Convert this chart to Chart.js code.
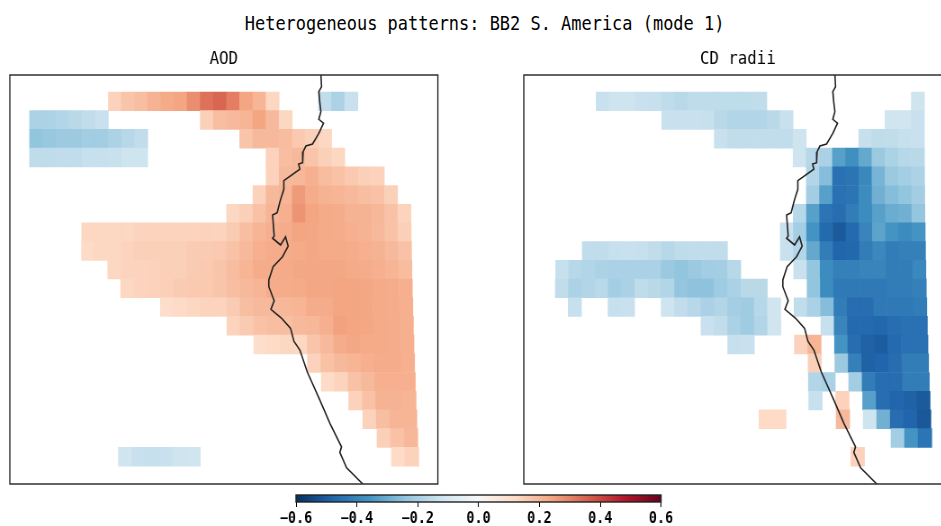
<!DOCTYPE html>
<html>
<head>
<meta charset="utf-8">
<title>Heterogeneous patterns</title>
<script src="https://cdn.jsdelivr.net/npm/chart.js@4"></script>
<style>
  html, body { margin: 0; background: #fff; overflow: hidden; width: 941px; height: 526px; }
  /* the reference is squeezed sideways, so text and canvases get the same scaleX */
  canvas, #title { position: absolute; transform-origin: 0 0; transform: scaleX(0.9); }
  #title {
    left: 13.5px; top: 11px; width: 1088px; text-align: center; color: #000; transform: scaleX(0.865);
    font: 19.6px/26px "DejaVu Sans Mono", monospace; white-space: pre;
  }
</style>
</head>
<body>
<div id="title">Heterogeneous patterns: BB2 S. America (mode 1)</div>
<canvas id="aodChart" width="480" height="440" style="left:8.2px;top:46px"></canvas>
<canvas id="cdChart" width="480" height="440" style="left:522.2px;top:46px"></canvas>
<canvas id="cbChart" width="466" height="37" style="left:269px;top:492px"></canvas>
<script>
// === Data ===
// each segment is [row, first column, values left to right]
const aodSegments = [
  [0, 6, [.14,.17,.185,.21,.23,.24,.28,.33,.35,.31,.24,.205,.13]],
  [0, 22, [-.15,-.19,-.135]],
  [1, 0, [-.19,-.19,-.18,-.165,-.15,-.135]],
  [1, 13, [.145,.185,.195,.205,.24,.195,.13]],
  [2, 0, [-.24,-.23,-.22,-.22,-.21,-.21,-.19,-.17,-.15]],
  [2, 16, [.17,.195,.195,.19,.16,.145,.13]],
  [3, 0, [-.155,-.155,-.15,-.15,-.14,-.14,-.135,-.125,-.125]],
  [3, 18, [.14,.185,.195,.17,.145,.13]],
  [4, 18, [.14,.195,.2,.215,.19,.175,.16,.145,.14]],
  [5, 17, [.14,.195,.205,.26,.225,.21,.205,.195,.185,.175,.145]],
  [6, 15, [.13,.145,.175,.205,.215,.27,.24,.23,.225,.21,.21,.2,.175,.135]],
  [7, 4, [.13,.13,.13,.13,.135,.135,.135,.135,.135,.14,.135,.155,.185,.205,.215,.225,.24,.235,.23,.225,.215,.21,.195,.175,.145]],
  [8, 4, [.12,.13,.13,.135,.145,.145,.145,.145,.155,.155,.16,.175,.195,.215,.225,.225,.23,.235,.23,.23,.225,.215,.21,.195,.175]],
  [9, 6, [.13,.135,.135,.14,.145,.145,.155,.16,.17,.19,.205,.225,.225,.23,.235,.235,.235,.235,.23,.225,.215,.205,.19]],
  [10, 7, [.13,.135,.14,.145,.155,.16,.16,.17,.185,.195,.205,.225,.225,.23,.235,.235,.24,.24,.235,.23,.225,.215]],
  [11, 10, [.11,.12,.13,.135,.135,.155,.185,.195,.195,.2,.205,.225,.225,.24,.24,.235,.23,.225,.215]],
  [12, 15, [.135,.155,.175,.185,.185,.195,.2,.215,.245,.24,.235,.23,.225,.215]],
  [13, 17, [.11,.12,.13,.13,.17,.195,.225,.235,.23,.23,.225,.215]],
  [14, 21, [.14,.175,.195,.205,.215,.225,.225,.215]],
  [15, 22, [.12,.135,.175,.195,.215,.215,.215]],
  [16, 24, [.14,.175,.21,.21,.205]],
  [17, 25, [.14,.185,.205,.205]],
  [18, 26, [.145,.175,.2]],
  [19, 27, [.12,.14]],
  [19, 7, [-.12,-.135,-.14,-.135,-.125,-.12]]
];

const cdSegments = [
  [0, 4, [-.135,-.125,-.125,-.135,-.14,-.155,-.165,-.155,-.155,-.155,-.155,-.155,-.15]],
  [0, 28, [-.125]],
  [1, 9, [-.135,-.135,-.135,-.14,-.165,-.18,-.18,-.18,-.165,-.135]],
  [1, 26, [-.12,-.12,-.135]],
  [2, 13, [-.135,-.15,-.15,-.15,-.15,-.15,-.125]],
  [2, 24, [-.14,-.155,-.15,-.14,-.135]],
  [3, 19, [-.125,-.17,-.195,-.33,-.37,-.31,-.225,-.19,-.17,-.165]],
  [4, 20, [-.18,-.26,-.45,-.44,-.39,-.28,-.225,-.205,-.19]],
  [5, 20, [-.21,-.33,-.45,-.44,-.38,-.29,-.26,-.24,-.21]],
  [6, 19, [-.17,-.33,-.44,-.46,-.42,-.38,-.33,-.30,-.29,-.235]],
  [7, 18, [-.135,-.205,-.36,-.47,-.505,-.47,-.40,-.32,-.36,-.38,-.36]],
  [8, 3, [-.15,-.15,-.14,-.135,-.14,-.15,-.17,-.155,-.15,-.15,-.15]],
  [8, 18, [-.135,-.18,-.31,-.42,-.48,-.475,-.42,-.39,-.42,-.41,-.41]],
  [9, 1, [-.14,-.17,-.18,-.19,-.195,-.195,-.195,-.195,-.225,-.24,-.225,-.21,-.205,-.17]],
  [9, 19, [-.135,-.235,-.38,-.41,-.41,-.40,-.40,-.42,-.42,-.39]],
  [10, 1, [-.15,-.19,-.18,-.165,-.205,-.195,-.155,-.165,-.18,-.235,-.245,-.245,-.215,-.195,-.165,-.165]],
  [10, 20, [-.24,-.38,-.43,-.43,-.43,-.43,-.42,-.42,-.41]],
  [11, 2, [-.14]],
  [11, 5, [-.14,-.135]],
  [11, 9, [-.125,-.15,-.17,-.195,-.18,-.205,-.215,-.17,-.12]],
  [11, 19, [-.15,-.195,-.26,-.42,-.46,-.46,-.43,-.43,-.43,-.42]],
  [12, 12, [-.135,-.15,-.195,-.215,-.18,-.12]],
  [12, 21, [-.14,-.40,-.47,-.47,-.475,-.46,-.45,-.45]],
  [13, 14, [-.14,-.135]],
  [13, 19, [.14,.205]],
  [13, 22, [-.36,-.46,-.49,-.50,-.47,-.45,-.45]],
  [14, 20, [.145]],
  [14, 22, [-.225,-.41,-.49,-.48,-.46,-.42,-.42]],
  [15, 20, [-.18,-.195]],
  [15, 23, [-.21,-.42,-.46,-.46,-.42,-.42]],
  [16, 20, [-.14]],
  [16, 22, [.14]],
  [16, 24, [-.33,-.46,-.48,-.49,-.505]],
  [17, 16.3, [.12,.12]],
  [17, 22, [.195]],
  [17, 24, [-.125,-.29,-.46,-.48,-.51]],
  [18, 26, [-.21,-.36,-.44]],
  [19, 23, [.14]]
];

// coastline traced in grid units (already as drawn, so not projected again)
const coastCol = [22.24,22.29,22.08,22.16,22.24,22.08,22.44,22.08,21.6,21.09,20.88,20.84,20.53,20.63,19.4,19.4,19.1,18.89,18.54,18.66,18.54,19.15,19.53,19.73,19.3,18.58,18.25,18.25,18.66,18.41,19.23,19.92,20.17,20.63,21.19,22.16,22.93,23.82,23.69,24.21,25.45];
const coastRow = [-0.91,-0.28,-0.02,0.59,1.05,1.46,1.67,2.21,2.78,2.89,3.19,3.78,3.85,4.13,4.74,5.2,5.87,6.45,6.58,7.7,7.82,8.18,7.74,8.24,8.81,9.34,10.05,10.41,11.16,11.62,12.1,12.64,13.32,13.8,14.96,16.47,17.72,18.97,19.27,20.09,20.96];

const cbTicks = ["\u22120.6", "\u22120.4", "\u22120.2", "0.0", "0.2", "0.4", "0.6"];

// RdBu_r stops, value -> rgb
const cmapValues = [-.6,-.48,-.36,-.24,-.12,0,.12,.24,.36,.48,.6];
const cmapColors = [[5,48,97],[33,102,172],[67,147,195],[146,197,222],[209,229,240],[247,247,247],[253,219,199],[244,165,130],[214,96,77],[178,24,43],[103,0,31]];

// === Helpers ===
function rdbu(v) {
  let i = 0;
  while (i < cmapValues.length - 2 && v > cmapValues[i + 1]) i++;
  const t = (v - cmapValues[i]) / (cmapValues[i + 1] - cmapValues[i]);
  const c = cmapColors[i].map((a, k) => Math.round(a + (cmapColors[i + 1][k] - a) * t));
  return `rgb(${c[0]},${c[1]},${c[2]})`;
}

// map projection: columns fan out slightly towards the south
function project(col, row) {
  const stretch = 0.006 + 0.00013 * (row - 2) * (row - 2);
  return 13 + (col - 13) * (1 + stretch);
}

function buildCells(segments) {
  const cells = [];
  segments.forEach(([row, col, values]) => {
    values.forEach((v, i) => {
      cells.push({ x: [project(col + i, row + 0.5), project(col + i + 1, row + 0.5)], y: row + 0.5, v });
    });
  });
  return cells;
}

const framePlugin = {
  id: "frame",
  afterDatasetsDraw(chart) {
    const { ctx, chartArea: a } = chart;
    ctx.save();
    ctx.strokeStyle = "#222";
    ctx.lineWidth = 1.4;
    ctx.strokeRect(a.left, a.top, a.right - a.left, a.bottom - a.top);
    ctx.restore();
  }
};

// === Map panels ===
function makePanel(id, title, segments) {
  return new Chart(document.getElementById(id), {
    type: "bar",
    data: {
      datasets: [
        {
          type: "scatter",
          order: -1,
          data: coastCol.map((c, i) => ({ x: c, y: coastRow[i] })),
          showLine: true,
          pointRadius: 0,
          borderColor: "#222",
          borderWidth: 1.6
        },
        {
          indexAxis: "y",
          data: buildCells(segments),
          backgroundColor: (c) => (c.raw ? rdbu(c.raw.v) : "transparent"),
          borderWidth: 0,
          barPercentage: 1,
          categoryPercentage: 1,
          grouped: false
        }
      ]
    },
    options: {
      responsive: false,
      animation: false,
      events: [],
      layout: { padding: { left: 2, right: 2.4, top: 0, bottom: 2 } },
      scales: {
        x: { type: "linear", display: false, offset: false, min: -1.594, max: 31.2 },
        y: {
          type: "linear", display: false, reverse: true, min: -0.909, max: 20.96,
          // no ticks, they would shrink the bar thickness
          afterBuildTicks: (axis) => { axis.ticks = []; }
        }
      },
      plugins: {
        legend: { display: false },
        tooltip: { enabled: false },
        title: {
          display: true,
          text: title,
          color: "#000",
          font: { family: "DejaVu Sans Mono", size: 17.5, weight: "normal", lineHeight: 1.2 },
          padding: { top: 3, bottom: 5 }
        }
      }
    },
    plugins: [framePlugin]
  });
}

makePanel("aodChart", "AOD", aodSegments);
makePanel("cdChart", "CD radii", cdSegments);

// === Colorbar ===
new Chart(document.getElementById("cbChart"), {
  type: "bar",
  data: {
    labels: ["colorbar"],
    datasets: [{
      data: [[cmapValues[0], cmapValues[cmapValues.length - 1]]],
      backgroundColor: (c) => {
        const { chart } = c;
        const sx = chart.scales.x;
        if (!chart.chartArea || !sx) return "#fff";
        const g = chart.ctx.createLinearGradient(sx.left, 0, sx.right, 0);
        cmapValues.forEach((v) => g.addColorStop((v - cmapValues[0]) / 1.2, rdbu(v)));
        return g;
      },
      borderWidth: 0,
      barPercentage: 1,
      categoryPercentage: 1
    }]
  },
  options: {
    indexAxis: "y",
    responsive: false,
    animation: false,
    events: [],
    layout: { padding: { left: 30, right: 30.4, top: 3, bottom: 0 } },
    scales: {
      x: {
        type: "linear", min: -0.6, max: 0.6,
        grid: { drawOnChartArea: false, tickLength: 5, tickColor: "#000", tickWidth: 1 },
        border: { display: false },
        ticks: {
          stepSize: 0.2, autoSkip: false, maxRotation: 0, padding: 3, color: "#000",
          font: { family: "DejaVu Sans Mono", size: 15, weight: "bold", lineHeight: 1.2 },
          callback: (value, i) => cbTicks[i]
        },
        // layout caps a horizontal axis at half the canvas, this strip needs more
        afterFit: (axis) => { axis.height = 27; }
      },
      y: { display: false }
    },
    plugins: { legend: { display: false }, tooltip: { enabled: false } }
  },
  plugins: [framePlugin]
});
</script>
</body>
</html>
